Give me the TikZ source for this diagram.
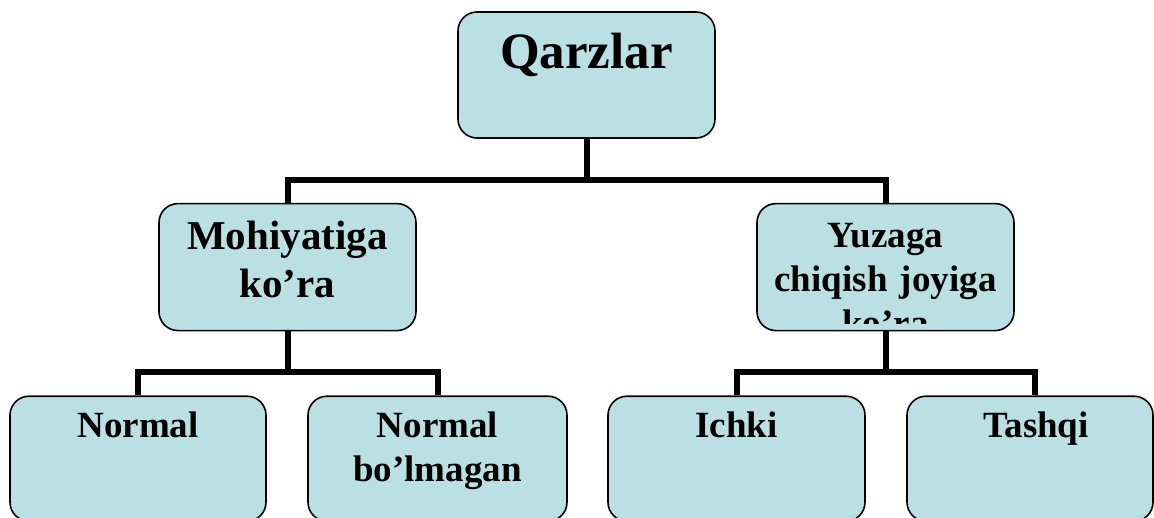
\documentclass[tikz,border=0pt]{standalone}
\usepackage{fontspec}
\setmainfont{Liberation Serif}
\usetikzlibrary{positioning}
\definecolor{qarzblue}{RGB}{187,224,227}

\begin{document}
\begin{tikzpicture}[
      x=1pt,y=-1pt,
      node distance=64pt,
      kb/.style={draw,line width=1.6pt,rounded corners=19pt,fill=qarzblue,inner sep=0pt,
        minimum width=257pt,text width=245pt,align=center,font=\bfseries},
      lvl2/.style={kb,minimum height=127pt,text height=46pt,text depth=81pt,
        font=\bfseries\fontsize{41}{48}\selectfont},
      lvl3/.style={kb,minimum height=125pt,text height=41pt,text depth=84pt,
        font=\bfseries\fontsize{37}{44}\selectfont},
      conn/.style={line width=6pt}
    ]
    \useasboundingbox (0,0) rectangle (1154,517);
    \node[kb,minimum height=126pt,text height=56pt,text depth=70pt,
      font=\bfseries\fontsize{51}{60}\selectfont] (qarz) at (586.5,75) {Qarzlar};
    \node[lvl2,below=of qarz,xshift=-299pt] (mohi) {Mohiyatiga\\ko’ra};
    \node[lvl2,below=of qarz,xshift=299pt,
      path picture={
        \clip (path picture bounding box.north west) rectangle ([yshift=7pt]path picture bounding box.south east);
        \node[anchor=north,inner sep=0pt,text height=41pt,text width=245pt,align=center,
          font=\bfseries\fontsize{37}{44}\selectfont] (yuzatxt) at (path picture bounding box.north)
          {Yuzaga\\chiqish joyiga\\ko’ra};
      }] (yuza) {};
    \node[lvl3,below=of mohi,xshift=-149.5pt,minimum width=256pt] (norm) {Normal};
    \node[lvl3,below=of mohi,xshift=150pt,minimum width=259pt] (nobo) {Normal\\bo’lmagan};
    \node[lvl3,below=of yuza,xshift=-149pt] (ichk) {Ichki};
    \node[lvl3,below=of yuza,xshift=144.5pt,minimum width=246pt,text width=234pt] (tash) {\hspace*{12pt}Tashqi};
    \draw[conn] (qarz.south) -- ++(0,41) -| (mohi.north);
    \draw[conn] (qarz.south) -- ++(0,41) -| (yuza.north);
    \draw[conn] (mohi.south) -- ++(0,41) -| (norm.north);
    \draw[conn] (mohi.south) -- ++(0,41) -| (nobo.north);
    \draw[conn] (yuza.south) -- ++(0,41) -| (ichk.north);
    \draw[conn] (yuza.south) -- ++(0,41) -| ([xshift=5pt]tash.north);
  \end{tikzpicture}
\end{document}
